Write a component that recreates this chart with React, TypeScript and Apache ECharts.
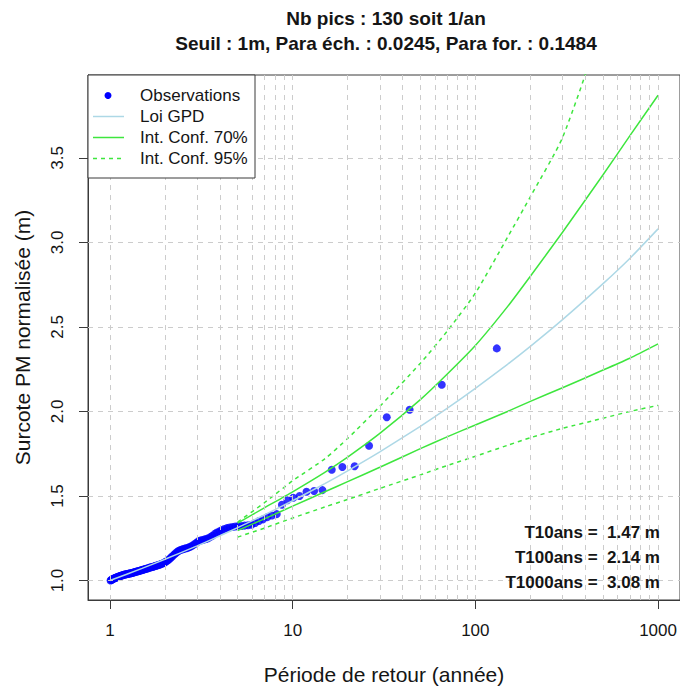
import React, { useEffect, useRef } from 'react';
import * as echarts from 'echarts';

const FONT = '"Liberation Sans", Arial, Helvetica, sans-serif';

// Observations: return period (years) and normalised surge (m), ascending
const returnPeriods = [
  1.008, 1.016, 1.023, 1.031, 1.040, 1.048, 1.056, 1.065, 1.074, 1.083,
  1.092, 1.101, 1.110, 1.120, 1.129, 1.139, 1.149, 1.159, 1.170, 1.180,
  1.191, 1.202, 1.213, 1.224, 1.236, 1.248, 1.260, 1.272, 1.284, 1.297,
  1.310, 1.323, 1.337, 1.351, 1.365, 1.379, 1.394, 1.409, 1.424, 1.440,
  1.456, 1.472, 1.489, 1.506, 1.523, 1.541, 1.560, 1.578, 1.598, 1.617,
  1.638, 1.658, 1.679, 1.701, 1.724, 1.747, 1.770, 1.795, 1.819, 1.845,
  1.871, 1.899, 1.926, 1.955, 1.985, 2.015, 2.047, 2.079, 2.113, 2.148,
  2.183, 2.220, 2.259, 2.298, 2.339, 2.382, 2.426, 2.472, 2.519, 2.569,
  2.620, 2.673, 2.729, 2.787, 2.848, 2.911, 2.977, 3.047, 3.119, 3.195,
  3.275, 3.359, 3.447, 3.541, 3.639, 3.743, 3.853, 3.970, 4.094, 4.226,
  4.367, 4.517, 4.679, 4.852, 5.038, 5.240, 5.458, 5.696, 5.955, 6.238,
  6.550, 6.895, 7.278, 7.706, 8.188, 8.733, 9.357, 10.077, 10.917, 11.909,
  13.100, 14.556, 16.375, 18.714, 21.833, 26.200, 32.750, 43.667, 65.500, 131.000,
];
const observedLevels = [
  1.000, 1.003, 1.005, 1.007, 1.009, 1.011, 1.013, 1.015, 1.016, 1.018,
  1.019, 1.021, 1.022, 1.024, 1.025, 1.027, 1.028, 1.030, 1.031, 1.032,
  1.034, 1.035, 1.036, 1.037, 1.038, 1.039, 1.040, 1.041, 1.042, 1.043,
  1.044, 1.045, 1.047, 1.048, 1.050, 1.051, 1.053, 1.054, 1.055, 1.057,
  1.058, 1.060, 1.061, 1.063, 1.064, 1.066, 1.068, 1.069, 1.071, 1.073,
  1.075, 1.077, 1.079, 1.080, 1.082, 1.084, 1.086, 1.088, 1.090, 1.092,
  1.094, 1.097, 1.099, 1.102, 1.105, 1.111, 1.115, 1.120, 1.126, 1.133,
  1.141, 1.149, 1.156, 1.163, 1.170, 1.176, 1.180, 1.183, 1.186, 1.189,
  1.191, 1.194, 1.198, 1.203, 1.209, 1.216, 1.224, 1.232, 1.236, 1.239,
  1.242, 1.246, 1.250, 1.257, 1.265, 1.276, 1.284, 1.291, 1.298, 1.305,
  1.310, 1.314, 1.317, 1.320, 1.322, 1.323, 1.325, 1.327, 1.330, 1.340,
  1.352, 1.362, 1.375, 1.385, 1.393, 1.448, 1.475, 1.490, 1.500, 1.525,
  1.530, 1.535, 1.655, 1.672, 1.676, 1.797, 1.966, 2.010, 2.158, 2.373,
];

// Fitted GPD law
const fitPeriods = [1, 1.5, 2, 3, 4, 5, 7, 10, 15, 20, 30, 50, 70, 100, 150, 200, 300, 500, 700, 1000];
const gpdLevels = [1.000, 1.072, 1.126, 1.205, 1.265, 1.313, 1.388, 1.472, 1.573, 1.649, 1.761, 1.912, 2.018, 2.137, 2.279, 2.385, 2.543, 2.756, 2.905, 3.080];

// Confidence intervals
const ciPeriods = [5, 7, 10, 15, 20, 30, 50, 70, 100, 150, 200, 300, 500, 700, 1000];
const ci70Upper = [1.340, 1.430, 1.525, 1.640, 1.730, 1.870, 2.070, 2.220, 2.390, 2.620, 2.800, 3.060, 3.400, 3.630, 3.870];
const ci70Lower = [1.296, 1.365, 1.440, 1.525, 1.585, 1.670, 1.780, 1.850, 1.920, 2.000, 2.060, 2.140, 2.245, 2.315, 2.400];
const ci95Upper = [1.346, 1.460, 1.590, 1.720, 1.840, 2.030, 2.285, 2.474, 2.700, 3.030, 3.270, 3.620, 4.300, 4.800, 5.400];
const ci95Lower = [1.257, 1.310, 1.370, 1.435, 1.480, 1.545, 1.625, 1.680, 1.735, 1.800, 1.845, 1.900, 1.960, 2.000, 2.036];

// Axes / grid
const xTicks = [1, 10, 100, 1000];
const yTicks = [1.0, 1.5, 2.0, 2.5, 3.0, 3.5];
const xGridValues = [1, 2, 3, 4, 5, 6, 7, 8, 9, 10, 20, 30, 40, 50, 60, 70, 80, 90, 100, 200, 300, 400, 500, 600, 700, 800, 900, 1000];
const yGridValues = [1.0, 1.5, 2.0, 2.5, 3.0, 3.5];

// Return levels annotation
const levelNames = ['T10ans', 'T100ans', 'T1000ans'];
const levelValues = [1.47, 2.14, 3.08];

const titleLines = ['Nb pics : 130 soit 1/an', 'Seuil : 1m, Para éch. : 0.0245, Para for. : 0.1484'];
const legendNames = ['Observations', 'Loi GPD', 'Int. Conf. 70%', 'Int. Conf. 95%'];

const BLUE = '#0000ff';
const LIGHTBLUE = '#add8e6';
const GREEN = '#3ee63e';
const AXIS = '#3a3a3a';
const TEXT = '#151515';

const zip = (xs: number[], ys: number[]) => xs.map((x, i) => [x, ys[i]]);

export default function App() {
  const ref = useRef<HTMLDivElement>(null);

  useEffect(() => {
    if (!ref.current) return;
    const chart = echarts.init(ref.current, undefined, { renderer: 'svg' });

    const legendTop = 75;
    const rowH = 21;
    const legendGraphics: any[] = [
      {
        type: 'rect', z: 100,
        shape: { x: 88, y: legendTop, width: 167, height: 103 },
        style: { fill: '#ffffff', stroke: AXIS, lineWidth: 1 },
      },
      {
        type: 'circle', z: 101,
        shape: { cx: 108, cy: legendTop + 20.5, r: 3.5 },
        style: { fill: BLUE },
      },
      {
        type: 'line', z: 101,
        shape: { x1: 93, y1: legendTop + 20.5 + rowH, x2: 124, y2: legendTop + 20.5 + rowH },
        style: { stroke: LIGHTBLUE, lineWidth: 1.5 },
      },
      {
        type: 'line', z: 101,
        shape: { x1: 93, y1: legendTop + 20.5 + rowH * 2, x2: 124, y2: legendTop + 20.5 + rowH * 2 },
        style: { stroke: GREEN, lineWidth: 1.5 },
      },
      {
        type: 'line', z: 101,
        shape: { x1: 93, y1: legendTop + 20.5 + rowH * 3, x2: 124, y2: legendTop + 20.5 + rowH * 3 },
        style: { stroke: GREEN, lineWidth: 1.5, lineDash: [4, 4] },
      },
      ...legendNames.map((name, i) => ({
        type: 'text', z: 101,
        x: 140, y: legendTop + 20.5 + rowH * i,
        style: {
          text: name, fill: TEXT, fontSize: 17, fontFamily: FONT,
          align: 'left', verticalAlign: 'middle',
        },
      })),
    ];

    const titleGraphics = titleLines.map((t, i) => ({
      type: 'text', z: 100,
      x: 386, y: 18 + i * 25,
      style: {
        text: t, fill: TEXT, fontSize: 19, fontWeight: 'bold', fontFamily: FONT,
        align: 'center', verticalAlign: 'middle',
      },
    }));

    const levelGraphics = levelNames.map((n, i) => ({
      type: 'text', z: 100,
      x: 660, y: 532 + i * 25,
      style: {
        text: `${n} =  ${levelValues[i].toFixed(2)} m`, fill: TEXT, fontSize: 17, fontWeight: 'bold', fontFamily: FONT,
        align: 'right', verticalAlign: 'middle',
      },
    }));

    const option: any = {
      animation: false,
      textStyle: { fontFamily: FONT },
      grid: {
        left: 88, right: -4, top: 75, bottom: 83,
        show: true, borderColor: AXIS, borderWidth: 1, backgroundColor: 'transparent',
        containLabel: false,
      },
      xAxis: {
        type: 'log', logBase: 10, min: 0.7586, max: 1318.3,
        axisLine: { show: true, onZero: false, lineStyle: { color: AXIS, width: 1 } },
        axisTick: { show: true, length: 9, customValues: xTicks, lineStyle: { color: AXIS } },
        axisLabel: {
          customValues: xTicks, margin: 22, fontSize: 17, color: TEXT, fontFamily: FONT,
          formatter: (v: number) => String(Math.round(v)),
        },
        splitLine: { show: false },
        name: 'Période de retour (année)', nameLocation: 'middle', nameGap: 64,
        nameTextStyle: { fontSize: 21, color: TEXT, fontFamily: FONT },
      },
      yAxis: {
        type: 'value', min: 0.885, max: 3.99,
        axisLine: { show: true, onZero: false, lineStyle: { color: AXIS, width: 1 } },
        axisTick: { show: true, length: 9, customValues: yTicks, lineStyle: { color: AXIS } },
        axisLabel: {
          customValues: yTicks, margin: 22, fontSize: 17, color: TEXT, fontFamily: FONT, rotate: 90,
          formatter: (v: number) => v.toFixed(1),
        },
        splitLine: { show: false },
        name: 'Surcote PM normalisée (m)', nameLocation: 'middle', nameGap: 55,
        nameTextStyle: { fontSize: 21, color: TEXT, fontFamily: FONT },
      },
      series: [
        {
          name: 'grid', type: 'line', data: [], z: 1, silent: true,
          markLine: {
            silent: true, symbol: ['none', 'none'], label: { show: false }, animation: false,
            lineStyle: { color: '#cccccc', type: [5, 5], width: 1 },
            data: [
              ...xGridValues.map((v) => ({ xAxis: v })),
              ...yGridValues.map((v) => ({ yAxis: v })),
            ],
          },
        },
        {
          name: 'Observations', type: 'scatter', z: 3,
          symbol: 'circle', symbolSize: 8,
          itemStyle: { color: BLUE },
          data: zip(returnPeriods, observedLevels),
        },
        {
          name: 'Loi GPD', type: 'line', z: 4, symbol: 'none', smooth: 0.2,
          lineStyle: { color: LIGHTBLUE, width: 1.5 },
          data: zip(fitPeriods, gpdLevels),
        },
        {
          name: 'Int. Conf. 70%', type: 'line', z: 4, symbol: 'none', smooth: 0.2,
          lineStyle: { color: GREEN, width: 1.5 },
          data: zip(ciPeriods, ci70Upper),
        },
        {
          name: 'Int. Conf. 70% inf', type: 'line', z: 4, symbol: 'none', smooth: 0.2,
          lineStyle: { color: GREEN, width: 1.5 },
          data: zip(ciPeriods, ci70Lower),
        },
        {
          name: 'Int. Conf. 95%', type: 'line', z: 4, symbol: 'none', smooth: 0.2,
          lineStyle: { color: GREEN, width: 1.5, type: [4, 4] },
          data: zip(ciPeriods, ci95Upper),
        },
        {
          name: 'Int. Conf. 95% inf', type: 'line', z: 4, symbol: 'none', smooth: 0.2,
          lineStyle: { color: GREEN, width: 1.5, type: [4, 4] },
          data: zip(ciPeriods, ci95Lower),
        },
      ],
      graphic: [...titleGraphics, ...legendGraphics, ...levelGraphics],
    };

    chart.setOption(option);
    return () => chart.dispose();
  }, []);

  return (
    <div
      ref={ref}
      style={{ position: 'absolute', left: 0, top: 0, width: 680, height: 690, background: '#ffffff' }}
    />
  );
}
